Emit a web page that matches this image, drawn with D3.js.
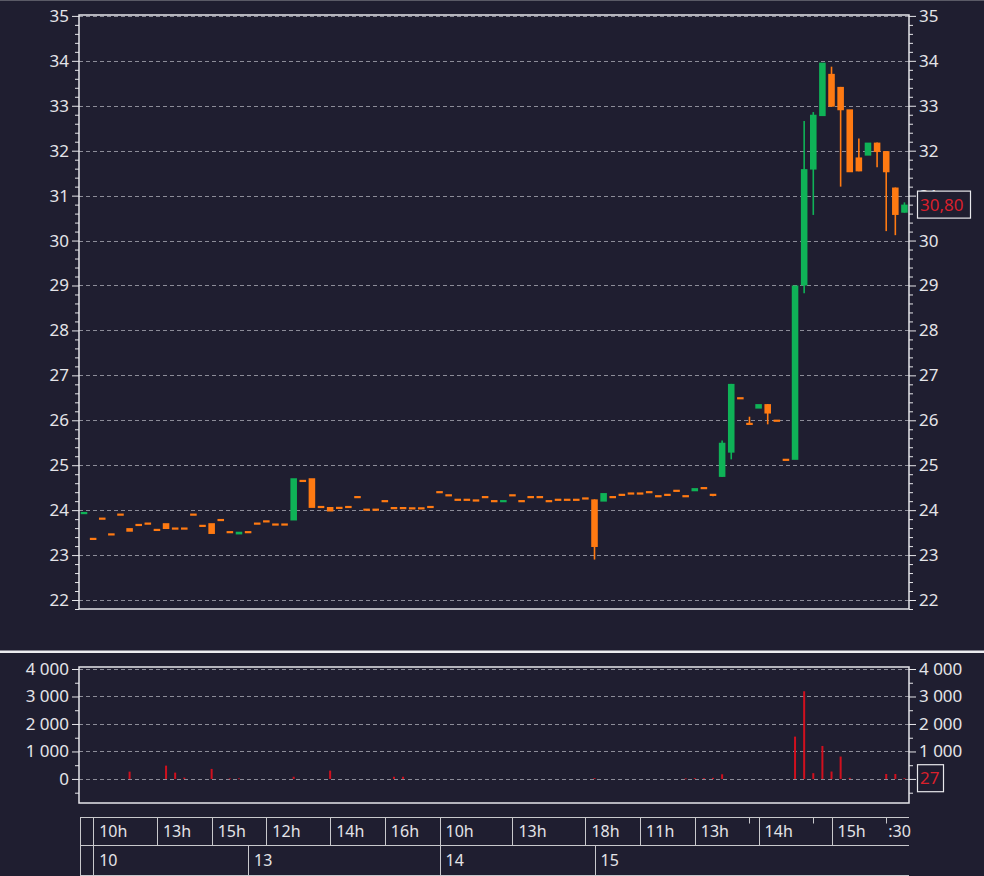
<!DOCTYPE html>
<html><head><meta charset="utf-8">
<script src="https://cdn.jsdelivr.net/npm/d3@7"></script>
<style>html,body{margin:0;padding:0;background:#1f1e30;overflow:hidden}</style>
</head><body><svg id="c" width="984" height="876"></svg>
<script>
// ---- data ----
const opens = [23.91,23.36,23.81,23.46,23.90,23.60,23.67,23.70,23.56,23.71,
23.59,23.59,23.90,23.65,23.71,23.78,23.51,23.46,23.51,23.70,
23.75,23.68,23.68,23.77,24.65,24.71,24.07,24.07,24.05,24.07,
24.29,24.01,24.01,24.20,24.07,24.07,24.04,24.04,24.07,24.40,
24.33,24.23,24.23,24.24,24.29,24.20,24.19,24.33,24.20,24.29,
24.29,24.20,24.23,24.23,24.23,24.26,24.24,24.19,24.29,24.34,
24.37,24.37,24.40,24.31,24.34,24.43,24.31,24.42,24.49,24.34,
24.74,25.28,26.49,25.92,26.26,26.36,25.99,25.12,25.12,29.00,
31.58,32.77,33.71,33.42,32.92,31.85,31.89,32.18,31.99,31.18,30.62];
const closes = [23.96,23.36,23.81,23.46,23.90,23.52,23.67,23.70,23.56,23.58,
23.59,23.59,23.90,23.65,23.47,23.78,23.51,23.52,23.51,23.70,
23.75,23.68,23.68,24.71,24.65,24.05,24.07,23.97,24.05,24.07,
24.29,24.01,24.01,24.20,24.02,24.02,24.04,24.04,24.07,24.40,
24.33,24.23,24.23,24.19,24.29,24.20,24.21,24.33,24.20,24.29,
24.29,24.20,24.23,24.23,24.23,24.26,23.18,24.38,24.29,24.34,
24.37,24.37,24.40,24.31,24.34,24.43,24.31,24.49,24.49,24.34,
25.50,26.81,26.49,25.92,26.36,26.15,25.99,25.12,29.00,31.59,
32.80,33.96,32.98,32.90,31.52,31.54,32.18,31.97,31.52,30.57,30.80];
const highs = [23.96,23.36,23.81,23.46,23.90,23.60,23.67,23.70,23.56,23.71,
23.59,23.59,23.90,23.65,23.71,23.78,23.51,23.52,23.51,23.70,
23.75,23.68,23.68,24.71,24.65,24.71,24.07,24.07,24.05,24.07,
24.29,24.01,24.01,24.20,24.07,24.07,24.04,24.04,24.07,24.40,
24.33,24.23,24.23,24.24,24.29,24.20,24.21,24.33,24.20,24.29,
24.29,24.20,24.23,24.23,24.23,24.26,24.24,24.38,24.29,24.34,
24.37,24.37,24.40,24.31,24.34,24.43,24.31,24.49,24.49,24.34,
25.55,26.81,26.49,26.08,26.36,26.36,25.99,25.12,29.00,32.66,
32.86,33.96,33.87,33.42,32.92,32.27,32.18,32.18,31.99,31.18,30.85];
const lows = [23.91,23.36,23.81,23.46,23.90,23.52,23.67,23.70,23.56,23.58,
23.59,23.59,23.90,23.65,23.47,23.78,23.51,23.46,23.51,23.70,
23.75,23.68,23.68,23.77,24.65,24.05,24.07,23.97,24.05,24.07,
24.29,24.01,24.01,24.20,24.02,24.02,24.04,24.04,24.07,24.40,
24.33,24.23,24.23,24.19,24.29,24.20,24.19,24.33,24.20,24.29,
24.29,24.20,24.23,24.23,24.23,24.26,22.90,24.19,24.29,24.34,
24.37,24.37,24.40,24.31,24.34,24.43,24.31,24.42,24.49,24.31,
24.74,25.13,26.49,25.92,26.26,25.91,25.99,25.12,25.12,28.83,
30.57,32.77,32.98,31.20,31.52,31.54,31.89,31.63,30.21,30.12,30.62];
const volumes = [0,0,0,0,0,266,0,0,0,485,
230,50,0,0,365,0,20,20,0,0,
0,0,0,80,0,0,0,303,0,0,
0,0,0,0,80,80,0,0,0,0,
0,0,0,0,0,0,0,0,0,0,
0,0,0,0,0,0,30,0,0,0,
0,0,0,0,0,0,20,30,30,40,
170,0,0,0,0,0,0,0,1540,3190,
210,1200,270,815,40,0,0,0,180,180,27];
const priceTicks = [22,23,24,25,26,27,28,29,30,31,32,33,34,35];
const volumeTicks = [0,1000,2000,3000,4000];
const hourLabels = ["10h","13h","15h","12h","14h","16h","10h","13h","18h","11h","13h","14h","15h"];
const hourStarts = [1,8,14,20,27,33,39,47,55,61,67,74,82];
const minorTimeLabels = [":30"];
const minorTimeStarts = [88];
const minorTimeMarks = [73,80,88];
const dayLabels = ["10","13","14","15"];
const dayStarts = [1,18,39,56];
const lastPriceText = "30,80";
const lastVolumeText = "27";

// ---- drawing ----
const svg = d3.select("#c");
const BG = "#1f1e30", TXT = "#e4e4e8", GRID = "#8c8c98", FRAME = "#e6e6ea";
const GREEN = "#0fb257", ORANGE = "#ff7a12", RED = "#d0101e", LABELRED = "#d9202c";
const FONT = "'Noto Sans', sans-serif";

svg.append("rect").attr("width",984).attr("height",876).attr("fill",BG);
svg.append("line").attr("x1",0).attr("x2",984).attr("y1",0.5).attr("y2",0.5).attr("stroke","#5a5a66");

const L = 79, R = 909;
const x = d3.scaleLinear().domain([-0.55, 90.5]).range([L, R]);
const step = x(1) - x(0);
const cw = step * 0.72;

const PT = 15, PB = 609;
const y = d3.scaleLinear().domain([21.8, 35.02]).range([PB, PT]);
const VT = 667, VB = 803;
const yv = d3.scaleLinear().domain([-875, 4073]).range([VB, VT]);

const fmtLoc = d3.formatLocale({decimal:",", thousands:"\u00a0", grouping:[3], currency:["",""]});
const vfmt = fmtLoc.format(",");

function drawAxes(scale, major, minor, fmt, top, bottom, hideRight) {
  const g = svg.append("g");
  g.selectAll("line").data(major).join("line")
    .attr("x1", L).attr("x2", R)
    .attr("y1", d => Math.round(scale(d)) + 0.5).attr("y2", d => Math.round(scale(d)) + 0.5)
    .attr("stroke", GRID).attr("stroke-dasharray", "4,3").attr("stroke-width", 1);
  [["left", L], ["right", R]].forEach(([side, xp]) => {
    const ax = side === "left" ? d3.axisLeft : d3.axisRight;
    const gm = svg.append("g").attr("transform", `translate(${xp},0)`)
      .call(ax(scale).tickValues(minor).tickSize(4).tickFormat(""));
    gm.select(".domain").remove();
    gm.selectAll("line").attr("stroke", FRAME);
    const gM = svg.append("g").attr("transform", `translate(${xp},0)`)
      .call(ax(scale).tickValues(major).tickSize(7).tickPadding(3).tickFormat(fmt));
    gM.select(".domain").remove();
    gM.selectAll("line").attr("stroke", FRAME);
    gM.selectAll("text").attr("fill", TXT).attr("font-family", FONT).attr("font-size", 17);
    if (side === "right" && hideRight) gM.selectAll("text").filter(d => hideRight.includes(d)).remove();
  });
  svg.append("rect").attr("x", L).attr("y", top).attr("width", R - L).attr("height", bottom - top)
    .attr("fill", "none").attr("stroke", FRAME).attr("stroke-width", 1.5);
}

const priceMinor = d3.range(21.8, 35.05, 0.2).map(v => +v.toFixed(1)).filter(v => !priceTicks.includes(v));
drawAxes(y, priceTicks, priceMinor, d => d, PT, PB, null);
const volMinor = [-500, 500, 1500, 2500, 3500];
drawAxes(yv, volumeTicks, volMinor, vfmt, VT, VB, [0]);

// candles
const idx = d3.range(opens.length);
const cg = svg.append("g");
const col = i => closes[i] > opens[i] ? GREEN : ORANGE;
cg.selectAll("line.wick").data(idx.filter(i => highs[i] > Math.max(opens[i], closes[i]) + 0.001 || lows[i] < Math.min(opens[i], closes[i]) - 0.001))
  .join("line").attr("class","wick")
  .attr("x1", i => x(i)).attr("x2", i => x(i))
  .attr("y1", i => y(highs[i])).attr("y2", i => y(lows[i]))
  .attr("stroke", col).attr("stroke-width", 1.6);
cg.selectAll("rect.body").data(idx).join("rect").attr("class","body")
  .attr("x", i => x(i) - cw / 2).attr("width", cw)
  .attr("y", i => {
    const t = y(Math.max(opens[i], closes[i])), b = y(Math.min(opens[i], closes[i]));
    return b - t < 2.2 ? (t + b) / 2 - 1.1 : t;
  })
  .attr("height", i => Math.max(2.2, y(Math.min(opens[i], closes[i])) - y(Math.max(opens[i], closes[i]))))
  .attr("fill", col);

// volumes
svg.append("g").selectAll("rect").data(idx.filter(i => volumes[i] > 0)).join("rect")
  .attr("x", i => x(i) - 1).attr("width", 2)
  .attr("y", i => yv(volumes[i])).attr("height", i => Math.max(0.8, yv(0) - yv(volumes[i])))
  .attr("fill", RED);

// last value labels
function lastBox(yy, txt, w) {
  svg.append("rect").attr("x", 917.5).attr("y", yy - 13.5).attr("width", w).attr("height", 27)
    .attr("fill", BG).attr("stroke", "#e8e8ec").attr("stroke-width", 1.2);
  svg.append("text").attr("x", 920).attr("y", yy).attr("dy", "0.36em")
    .attr("fill", LABELRED).attr("font-family", FONT).attr("font-size", 17).text(txt);
}
lastBox(y(closes[closes.length - 1]), lastPriceText, 53);
lastBox(yv(volumes[volumes.length - 1]), lastVolumeText, 26);

// separator
svg.append("rect").attr("x", 0).attr("y", 650.5).attr("width", 984).attr("height", 2.5).attr("fill", "#ececf0");

// time axis
const T1 = 817.5, T2 = 845.5, T3 = 875.5;
const tg = svg.append("g").attr("stroke", "#c8c8cc").attr("stroke-width", 1);
tg.append("line").attr("x1", L + 1).attr("x2", R).attr("y1", T1).attr("y2", T1);
tg.append("line").attr("x1", L + 1).attr("x2", R).attr("y1", T2).attr("y2", T2);
tg.append("line").attr("x1", L + 1).attr("x2", R).attr("y1", T3).attr("y2", T3);
tg.append("line").attr("x1", L + 1.5).attr("x2", L + 1.5).attr("y1", T1).attr("y2", 876);
tg.selectAll("line.h").data(hourStarts).join("line").attr("class","h")
  .attr("x1", d => Math.round(x(d)) + 0.5).attr("x2", d => Math.round(x(d)) + 0.5).attr("y1", T1).attr("y2", T2);
tg.selectAll("line.m").data(minorTimeMarks).join("line").attr("class","m")
  .attr("x1", d => Math.round(x(d)) + 0.5).attr("x2", d => Math.round(x(d)) + 0.5).attr("y1", T1).attr("y2", T1 + 6);
tg.selectAll("line.d").data(dayStarts).join("line").attr("class","d")
  .attr("x1", d => Math.round(x(d)) + 0.5).attr("x2", d => Math.round(x(d)) + 0.5).attr("y1", T2).attr("y2", 876);

const lg = svg.append("g").attr("fill", TXT).attr("font-family", FONT).attr("font-size", 16);
lg.selectAll("text.h").data(hourLabels).join("text").attr("class","h")
  .attr("x", (d, i) => x(hourStarts[i]) + 6).attr("y", (T1 + T2) / 2).attr("dy", "0.36em").text(d => d);
lg.selectAll("text.m").data(minorTimeLabels).join("text").attr("class","m")
  .attr("x", (d, i) => x(minorTimeStarts[i]) + 2).attr("y", (T1 + T2) / 2).attr("dy", "0.36em").text(d => d);
lg.selectAll("text.d").data(dayLabels).join("text").attr("class","d")
  .attr("x", (d, i) => x(dayStarts[i]) + 6).attr("y", (T2 + T3) / 2).attr("dy", "0.36em").text(d => d);
</script></body></html>
